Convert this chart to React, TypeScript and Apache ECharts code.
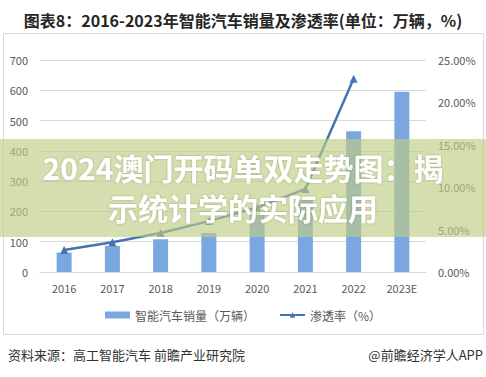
import React, { useEffect, useRef } from "react";
import * as echarts from "echarts";

const categories = ["2016", "2017", "2018", "2019", "2020", "2021", "2022", "2023E"];
const sales = [64, 86, 108, 129, 188, 238, 465, 595];
const rate = [2.6, 3.5, 4.6, 6.0, 7.6, 9.8, 22.8, null];
const leftTicks = { min: 0, max: 700, interval: 100 };
const rightTicks = { min: 0, max: 25, interval: 5 };
const titleText = "图表8：2016-2023年智能汽车销量及渗透率(单位：万辆，%)";
const overlayLine1 = "2024澳门开码单双走势图：揭";
const overlayLine2 = "示统计学的实际应用";
const sourceText = "资料来源：高工智能汽车 前瞻产业研究院";
const brandText = "@前瞻经济学人APP";
const seriesNames = ["智能汽车销量（万辆）", "渗透率（%）"];

const FONT = "'Noto Sans CJK SC', 'Noto Sans', sans-serif";

export default function App() {
  const ref = useRef<HTMLDivElement>(null);
  useEffect(() => {
    if (!ref.current) return;
    const chart = echarts.init(ref.current, undefined, { renderer: "svg" });
    chart.setOption({
      animation: false,
      backgroundColor: "#ffffff",
      textStyle: { fontFamily: FONT },
      grid: { left: 40, right: 60, top: 60, bottom: 105 },
      legend: {
        bottom: 51,
        left: "center",
        itemWidth: 25,
        itemHeight: 7,
        itemGap: 24,
        textStyle: { fontSize: 12, color: "#595959", fontFamily: FONT },
        data: [
          { name: seriesNames[0], icon: "rect" },
          { name: seriesNames[1] },
        ],
      },
      xAxis: {
        type: "category",
        data: categories,
        axisLine: { lineStyle: { color: "#d9d9d9" } },
        axisTick: { show: false },
        axisLabel: { color: "#595959", fontSize: 11, margin: 10, fontFamily: FONT },
      },
      yAxis: [
        {
          type: "value",
          ...leftTicks,
          axisLine: { show: false },
          axisTick: { show: false },
          axisLabel: { color: "#595959", fontSize: 11, margin: 12, fontFamily: FONT },
          splitLine: { lineStyle: { color: "#d9d9d9" } },
        },
        {
          type: "value",
          ...rightTicks,
          position: "right",
          axisLine: { show: false },
          axisTick: { show: false },
          axisLabel: {
            color: "#595959",
            fontSize: 11,
            margin: 12,
            fontFamily: FONT,
            formatter: (v: number) => v.toFixed(2) + "%",
          },
          splitLine: { show: false },
        },
      ],
      series: [
        {
          name: seriesNames[0],
          type: "bar",
          data: sales,
          barWidth: 15,
          itemStyle: { color: "#7ba7e1" },
          yAxisIndex: 0,
        },
        {
          name: seriesNames[1],
          type: "line",
          data: rate,
          yAxisIndex: 1,
          symbol: "triangle",
          symbolSize: 8,
          lineStyle: { color: "#4674b2", width: 2.5 },
          itemStyle: { color: "#4674b2" },
        },
      ],
      graphic: [
        {
          type: "text",
          x: 243,
          y: 20,
          z: 100,
          style: {
            text: titleText,
            fill: "#262626",
            font: `bold 16px ${FONT}`,
            textAlign: "center",
            textVerticalAlign: "middle",
          },
        },
        {
          type: "rect",
          z: 1,
          shape: { x: 3.5, y: 33.5, width: 480, height: 301 },
          style: { fill: "none", stroke: "#d9d9d9", lineWidth: 1 },
        },
        {
          type: "rect",
          z: 100,
          shape: { x: 0, y: 139, width: 486, height: 98 },
          style: { fill: "rgba(190,205,130,0.65)" },
        },
        {
          type: "text",
          x: 243,
          y: 167,
          z: 101,
          style: {
            text: overlayLine1,
            fill: "#ffffff",
            font: `bold 30px ${FONT}`,
            textAlign: "center",
            textVerticalAlign: "middle",
            textShadowColor: "rgba(0,0,0,0.25)",
            textShadowBlur: 2,
          },
        },
        {
          type: "text",
          x: 243,
          y: 207,
          z: 101,
          style: {
            text: overlayLine2,
            fill: "#ffffff",
            font: `bold 30px ${FONT}`,
            textAlign: "center",
            textVerticalAlign: "middle",
            textShadowColor: "rgba(0,0,0,0.25)",
            textShadowBlur: 2,
          },
        },
        {
          type: "text",
          x: 8,
          y: 354,
          z: 100,
          style: {
            text: sourceText,
            fill: "#333333",
            font: `13px ${FONT}`,
            textAlign: "left",
            textVerticalAlign: "middle",
          },
        },
        {
          type: "text",
          x: 483,
          y: 354,
          z: 100,
          style: {
            text: brandText,
            fill: "#333333",
            font: `13px ${FONT}`,
            textAlign: "right",
            textVerticalAlign: "middle",
          },
        },
      ],
    });
    return () => chart.dispose();
  }, []);
  return (
    <div
      ref={ref}
      style={{ position: "absolute", left: 0, top: 0, width: 486, height: 377, background: "#fff" }}
    />
  );
}
